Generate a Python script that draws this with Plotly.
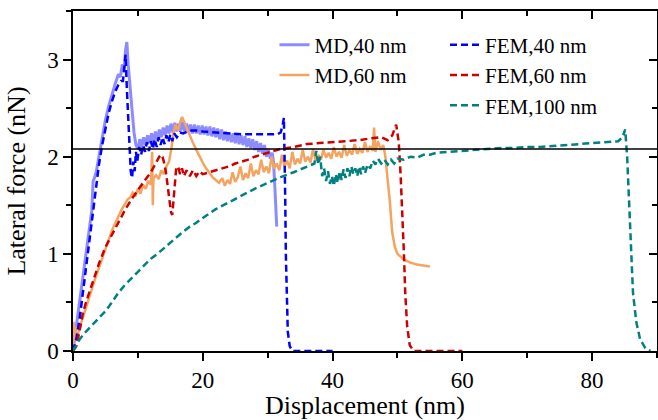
import plotly.graph_objects as go

# Lateral force vs. displacement: MD simulations and FEM models for several tip radii
md40 = [
    (0, 0), (0.3, 0.15), (0.6, 0.3), (1.0, 0.5), (1.5, 0.75), (2.0, 1.0), (2.5, 1.25),
    (2.9, 1.45), (3.1, 1.75), (3.3, 1.78), (3.6, 1.85), (4.0, 2.0), (4.5, 2.2), (5.0, 2.38),
    (5.5, 2.52), (6.0, 2.65), (6.5, 2.75), (7.0, 2.85), (7.3, 2.82), (7.6, 2.95), (7.9, 2.9),
    (8.1, 3.1), (8.3, 3.18), (8.5, 2.95), (8.8, 2.7), (9.1, 2.45), (9.4, 2.25), (9.7, 2.12),
    (10.0, 2.08), (10.3, 2.18), (10.6, 2.10), (10.9, 2.20), (11.2, 2.12), (11.5, 2.22),
    (11.8, 2.14), (12.1, 2.24), (12.4, 2.15), (12.7, 2.26), (13.0, 2.17), (13.3, 2.28),
    (13.6, 2.20), (13.9, 2.30), (14.2, 2.22), (14.5, 2.32), (14.8, 2.24), (15.1, 2.34),
    (15.4, 2.25), (15.7, 2.35), (16.0, 2.26), (16.3, 2.34), (16.6, 2.27), (16.9, 2.36),
    (17.2, 2.26), (17.5, 2.34), (17.8, 2.25), (18.1, 2.33), (18.4, 2.24), (18.7, 2.33),
    (19.0, 2.24), (19.3, 2.32), (19.6, 2.23), (19.9, 2.32), (20.2, 2.23), (20.5, 2.31),
    (20.8, 2.22), (21.1, 2.31), (21.4, 2.21), (21.7, 2.30), (22.0, 2.20), (22.3, 2.29),
    (22.6, 2.18), (22.9, 2.28), (23.2, 2.17), (23.5, 2.26), (23.8, 2.16), (24.1, 2.25),
    (24.4, 2.15), (24.7, 2.24), (25.0, 2.14), (25.3, 2.23), (25.6, 2.13), (25.9, 2.22),
    (26.2, 2.12), (26.5, 2.21), (26.8, 2.10), (27.1, 2.19), (27.4, 2.09), (27.7, 2.18),
    (28.0, 2.07), (28.3, 2.16), (28.6, 2.05), (28.9, 2.14), (29.2, 2.03), (29.5, 2.12),
    (29.8, 2.00), (30.1, 2.08), (30.4, 1.98), (30.7, 2.04), (30.9, 1.95), (31.1, 1.70),
    (31.3, 1.45), (31.4, 1.28),
]

md60 = [
    (0, 0), (0.1, 0.3), (0.2, 0.1), (0.35, 0.25), (0.5, 0.12), (0.8, 0.2), (1.2, 0.28),
    (1.6, 0.36), (2.0, 0.45), (2.4, 0.53), (2.8, 0.62), (3.2, 0.7), (3.6, 0.78), (4.0, 0.86),
    (4.4, 0.94), (4.8, 1.02), (5.2, 1.1), (5.6, 1.17), (6.0, 1.24), (6.4, 1.3), (6.8, 1.36),
    (7.2, 1.41), (7.6, 1.47), (8.0, 1.51), (8.4, 1.56), (8.8, 1.58), (9.2, 1.63), (9.6, 1.59),
    (10.0, 1.67), (10.4, 1.62), (10.8, 1.71), (11.2, 1.67), (11.6, 1.75), (12.0, 1.71),
    (12.2, 2.05), (12.3, 1.5), (12.4, 1.78), (12.8, 1.81), (13.2, 1.77), (13.6, 1.86),
    (14.0, 1.82), (14.4, 1.9), (14.8, 1.95), (15.2, 2.1), (15.5, 2.25), (15.8, 2.33),
    (16.2, 2.27), (16.5, 2.35), (16.8, 2.41), (17.2, 2.35), (17.6, 2.28), (18.0, 2.22),
    (18.5, 2.14), (19.0, 2.07), (19.5, 2.0), (20.0, 1.94), (20.5, 1.88), (21.0, 1.83),
    (21.5, 1.79), (22.0, 1.76), (22.5, 1.73), (23.0, 1.78), (23.4, 1.70), (23.8, 1.76),
    (24.2, 1.72), (24.6, 1.84), (25.0, 1.74), (25.4, 1.79), (25.8, 1.90), (26.2, 1.76),
    (26.6, 1.83), (27.0, 1.78), (27.4, 1.93), (27.8, 1.80), (28.2, 1.86), (28.6, 1.82),
    (29.0, 1.97), (29.4, 1.84), (29.8, 1.90), (30.2, 1.83), (30.6, 2.00), (31.0, 1.88),
    (31.4, 1.93), (31.8, 1.86), (32.2, 2.02), (32.6, 1.90), (33.0, 1.96), (33.4, 1.88),
    (33.8, 2.05), (34.2, 1.92), (34.6, 1.98), (35.0, 1.93), (35.4, 2.07), (35.8, 1.95),
    (36.2, 2.00), (36.6, 1.94), (37.0, 2.08), (37.4, 1.96), (37.8, 2.02), (38.2, 1.97),
    (38.6, 2.07), (39.0, 1.99), (39.4, 2.04), (39.8, 1.98), (40.2, 2.10), (40.6, 2.00),
    (41.0, 2.05), (41.4, 1.99), (41.8, 2.12), (42.2, 2.01), (42.6, 2.07), (43.0, 2.02),
    (43.4, 2.13), (43.8, 2.03), (44.2, 2.08), (44.6, 2.04), (45.0, 2.15), (45.4, 2.05),
    (45.8, 2.11), (46.2, 2.06), (46.4, 2.30), (46.6, 2.05), (47.0, 2.16), (47.4, 2.07),
    (47.8, 2.12), (48.1, 2.02), (48.4, 1.85), (48.8, 1.56), (49.2, 1.22), (49.6, 1.07),
    (50.0, 1.0), (51.0, 0.94), (52.0, 0.91), (53.0, 0.89), (54.0, 0.88), (55.0, 0.87),
]

fem40 = [
    (0, 0), (0.5, 0.12), (1.0, 0.32), (1.5, 0.58), (2.0, 0.88), (2.5, 1.15), (3.0, 1.42),
    (3.5, 1.68), (4.0, 1.92), (4.5, 2.12), (5.0, 2.3), (5.5, 2.45), (6.0, 2.57), (6.5, 2.67),
    (7.0, 2.74), (7.4, 2.78), (7.7, 2.78), (7.9, 2.9), (8.1, 3.05), (8.3, 2.7), (8.5, 2.35),
    (8.7, 2.05), (8.9, 1.85), (9.1, 1.78), (9.3, 1.95), (9.5, 1.85), (9.7, 2.05), (9.9, 1.95),
    (10.2, 2.1), (10.5, 2.02), (10.8, 2.12), (11.1, 2.05), (11.4, 2.15), (11.7, 2.06),
    (12.0, 2.16), (12.3, 2.08), (12.6, 2.18), (12.9, 2.1), (13.2, 2.2), (13.5, 2.12),
    (13.8, 2.2), (14.1, 2.13), (14.4, 2.22), (14.7, 2.15), (15.0, 2.23), (15.3, 2.16),
    (15.6, 2.24), (16.0, 2.2), (16.5, 2.25), (17.0, 2.24), (18.0, 2.27), (19.0, 2.27),
    (20.0, 2.26), (22.0, 2.25), (24.0, 2.24), (26.0, 2.23), (28.0, 2.23), (30.0, 2.23),
    (31.5, 2.23), (32.0, 2.25), (32.3, 2.32), (32.5, 2.40), (32.6, 2.1), (32.7, 1.6),
    (32.8, 1.0), (32.95, 0.5), (33.1, 0.2), (33.4, 0.05), (33.8, 0.0), (36.0, 0.0), (40.0, 0.0),
]

fem60 = [
    (0, 0), (0.5, 0.05), (1.0, 0.2), (1.5, 0.38), (2.0, 0.5), (3.0, 0.7), (4.0, 0.9),
    (5.0, 1.07), (6.0, 1.2), (7.0, 1.32), (8.0, 1.45), (9.0, 1.56), (10.0, 1.66), (11.0, 1.75),
    (12.0, 1.84), (12.8, 1.93), (13.3, 2.0), (13.7, 2.02), (14.0, 1.95), (14.3, 1.85),
    (14.6, 1.7), (14.9, 1.55), (15.1, 1.43), (15.3, 1.4), (15.5, 1.55), (15.7, 1.75),
    (15.9, 1.88), (16.2, 1.9), (16.5, 1.82), (16.8, 1.88), (17.1, 1.8), (17.5, 1.86),
    (18.0, 1.8), (18.5, 1.86), (19.0, 1.8), (19.5, 1.85), (20.0, 1.82), (21.0, 1.84),
    (22.0, 1.86), (23.0, 1.88), (24.0, 1.9), (25.0, 1.93), (26.0, 1.95), (27.0, 1.97),
    (28.0, 2.0), (29.0, 2.02), (30.0, 2.04), (31.0, 2.06), (32.0, 2.08), (34.0, 2.1),
    (36.0, 2.13), (38.0, 2.14), (40.0, 2.15), (42.0, 2.16), (44.0, 2.17), (46.0, 2.19),
    (47.5, 2.2), (48.5, 2.17), (49.2, 2.22), (49.8, 2.33), (50.2, 2.15), (50.5, 1.8),
    (50.8, 1.4), (51.0, 1.0), (51.2, 0.6), (51.5, 0.25), (51.9, 0.06), (52.5, 0.0),
    (55.0, 0.0), (60.0, 0.0),
]

fem100 = [
    (0, 0), (0.5, 0.06), (1.0, 0.12), (2.0, 0.2), (3.0, 0.27), (4.0, 0.34), (5.0, 0.41),
    (6.0, 0.5), (7.0, 0.6), (8.0, 0.68), (9.0, 0.75), (10.0, 0.82), (11.0, 0.89), (12.0, 0.95),
    (13.0, 1.0), (14.0, 1.06), (15.0, 1.12), (16.0, 1.17), (17.0, 1.23), (18.0, 1.28),
    (19.0, 1.32), (20.0, 1.37), (22.0, 1.46), (24.0, 1.53), (26.0, 1.6), (28.0, 1.67),
    (30.0, 1.73), (32.0, 1.79), (34.0, 1.84), (36.0, 1.9), (37.2, 1.93), (37.5, 2.06),
    (37.8, 1.92), (38.1, 2.0), (38.4, 1.8), (38.7, 1.88), (39.0, 1.75), (39.3, 1.85),
    (39.6, 1.72), (39.9, 1.8), (40.2, 1.7), (40.5, 1.82), (40.8, 1.73), (41.1, 1.85),
    (41.4, 1.76), (41.7, 1.87), (42.0, 1.78), (42.3, 1.88), (42.6, 1.8), (42.9, 1.9),
    (43.2, 1.82), (43.5, 1.88), (43.8, 1.8), (44.1, 1.9), (44.4, 1.82), (44.7, 1.9),
    (45.0, 1.83), (45.4, 1.92), (45.8, 1.88), (46.2, 1.96), (46.6, 1.92), (47.0, 1.98),
    (47.5, 1.93), (48.0, 1.97), (48.5, 1.92), (49.0, 1.97), (49.5, 1.93), (50.0, 1.98),
    (51.0, 1.97), (52.0, 2.0), (53.0, 1.99), (54.0, 2.02), (55.0, 2.02), (56.0, 2.04),
    (58.0, 2.05), (60.0, 2.06), (62.0, 2.07), (64.0, 2.08), (66.0, 2.09), (68.0, 2.09),
    (70.0, 2.1), (72.0, 2.1), (74.0, 2.11), (76.0, 2.12), (78.0, 2.13), (80.0, 2.14),
    (82.0, 2.15), (84.0, 2.16), (84.7, 2.2), (85.1, 2.28), (85.4, 2.0), (85.7, 1.5),
    (86.0, 1.0), (86.3, 0.6), (86.8, 0.3), (87.4, 0.12), (88.2, 0.03), (89.0, 0.0),
]

ref_force = 2.08  # horizontal reference level (nN)

x_range = [0, 90]
y_range = [0, 3.5]
x_ticks = [0, 20, 40, 60, 80]
y_ticks = [0, 1, 2, 3]

FONT = "Liberation Serif"

series = [
    ("MD,40 nm", md40, "#8C8CFF", "solid", 3, "legend"),
    ("MD,60 nm", md60, "#F4A460", "solid", 2.5, "legend"),
    ("FEM,40 nm", fem40, "#0000FF", "7px,4px", 2.5, "legend2"),
    ("FEM,60 nm", fem60, "#CC0000", "7px,4px", 2.5, "legend2"),
    ("FEM,100 nm", fem100, "#008080", "7px,4px", 2.5, "legend2"),
]

fig = go.Figure()
for name, pts, color, dash, width, leg in series:
    xs = [p[0] for p in pts]
    ys = [p[1] for p in pts]
    fig.add_trace(go.Scatter(
        x=xs, y=ys, mode="lines", name=name, legend=leg,
        line=dict(color=color, width=width, dash=dash),
    ))

fig.add_hline(y=ref_force, line=dict(color="black", width=1.5))

axis_common = dict(
    showline=True, linecolor="black", linewidth=1.5,
    showgrid=False, zeroline=False,
    tickcolor="black", tickwidth=1.5,
)

fig.update_layout(
    width=658, height=420,
    margin=dict(l=73, r=1, t=11, b=69),
    paper_bgcolor="white", plot_bgcolor="white",
    font=dict(family=FONT, color="black"),
    xaxis=dict(
        **axis_common, range=x_range, tickvals=x_ticks, ticks="outside", ticklen=8,
        tickfont=dict(size=23, family=FONT),
        minor=dict(dtick=10, tick0=0, ticks="outside", ticklen=5, tickcolor="black", tickwidth=1.5),
        title=dict(text="Displacement (nm)", font=dict(size=26, family=FONT), standoff=4),
    ),
    yaxis=dict(
        **axis_common, range=y_range, tickvals=y_ticks, ticks="outside", ticklen=8,
        tickfont=dict(size=23, family=FONT),
        minor=dict(dtick=0.5, tick0=0, ticks="outside", ticklen=5, tickcolor="black", tickwidth=1.5),
        title=dict(text="Lateral force (nN)", font=dict(size=26, family=FONT), standoff=14),
    ),
    xaxis2=dict(
        **axis_common, overlaying="x", side="top", range=x_range, tickvals=x_ticks,
        ticks="inside", ticklen=8, showticklabels=False,
        minor=dict(dtick=10, tick0=0, ticks="inside", ticklen=5, tickcolor="black", tickwidth=1.5),
    ),
    yaxis2=dict(
        **axis_common, overlaying="y", side="right", range=y_range, tickvals=y_ticks,
        ticks="inside", ticklen=8, showticklabels=False,
        minor=dict(dtick=0.5, tick0=0, ticks="inside", ticklen=5, tickcolor="black", tickwidth=1.5),
    ),
    legend=dict(
        x=0.345, y=0.96, xanchor="left", yanchor="top",
        bgcolor="rgba(0,0,0,0)", font=dict(size=21, family=FONT),
        tracegroupgap=0, itemwidth=30,
    ),
    legend2=dict(
        x=0.637, y=0.96, xanchor="left", yanchor="top",
        bgcolor="rgba(0,0,0,0)", font=dict(size=21, family=FONT),
        tracegroupgap=0, itemwidth=30,
    ),
    showlegend=True,
)

# invisible trace so the mirrored top/right axes are rendered
fig.add_trace(go.Scatter(x=[], y=[], xaxis="x2", yaxis="y2", showlegend=False, hoverinfo="skip"))

fig.write_html("out.html")
